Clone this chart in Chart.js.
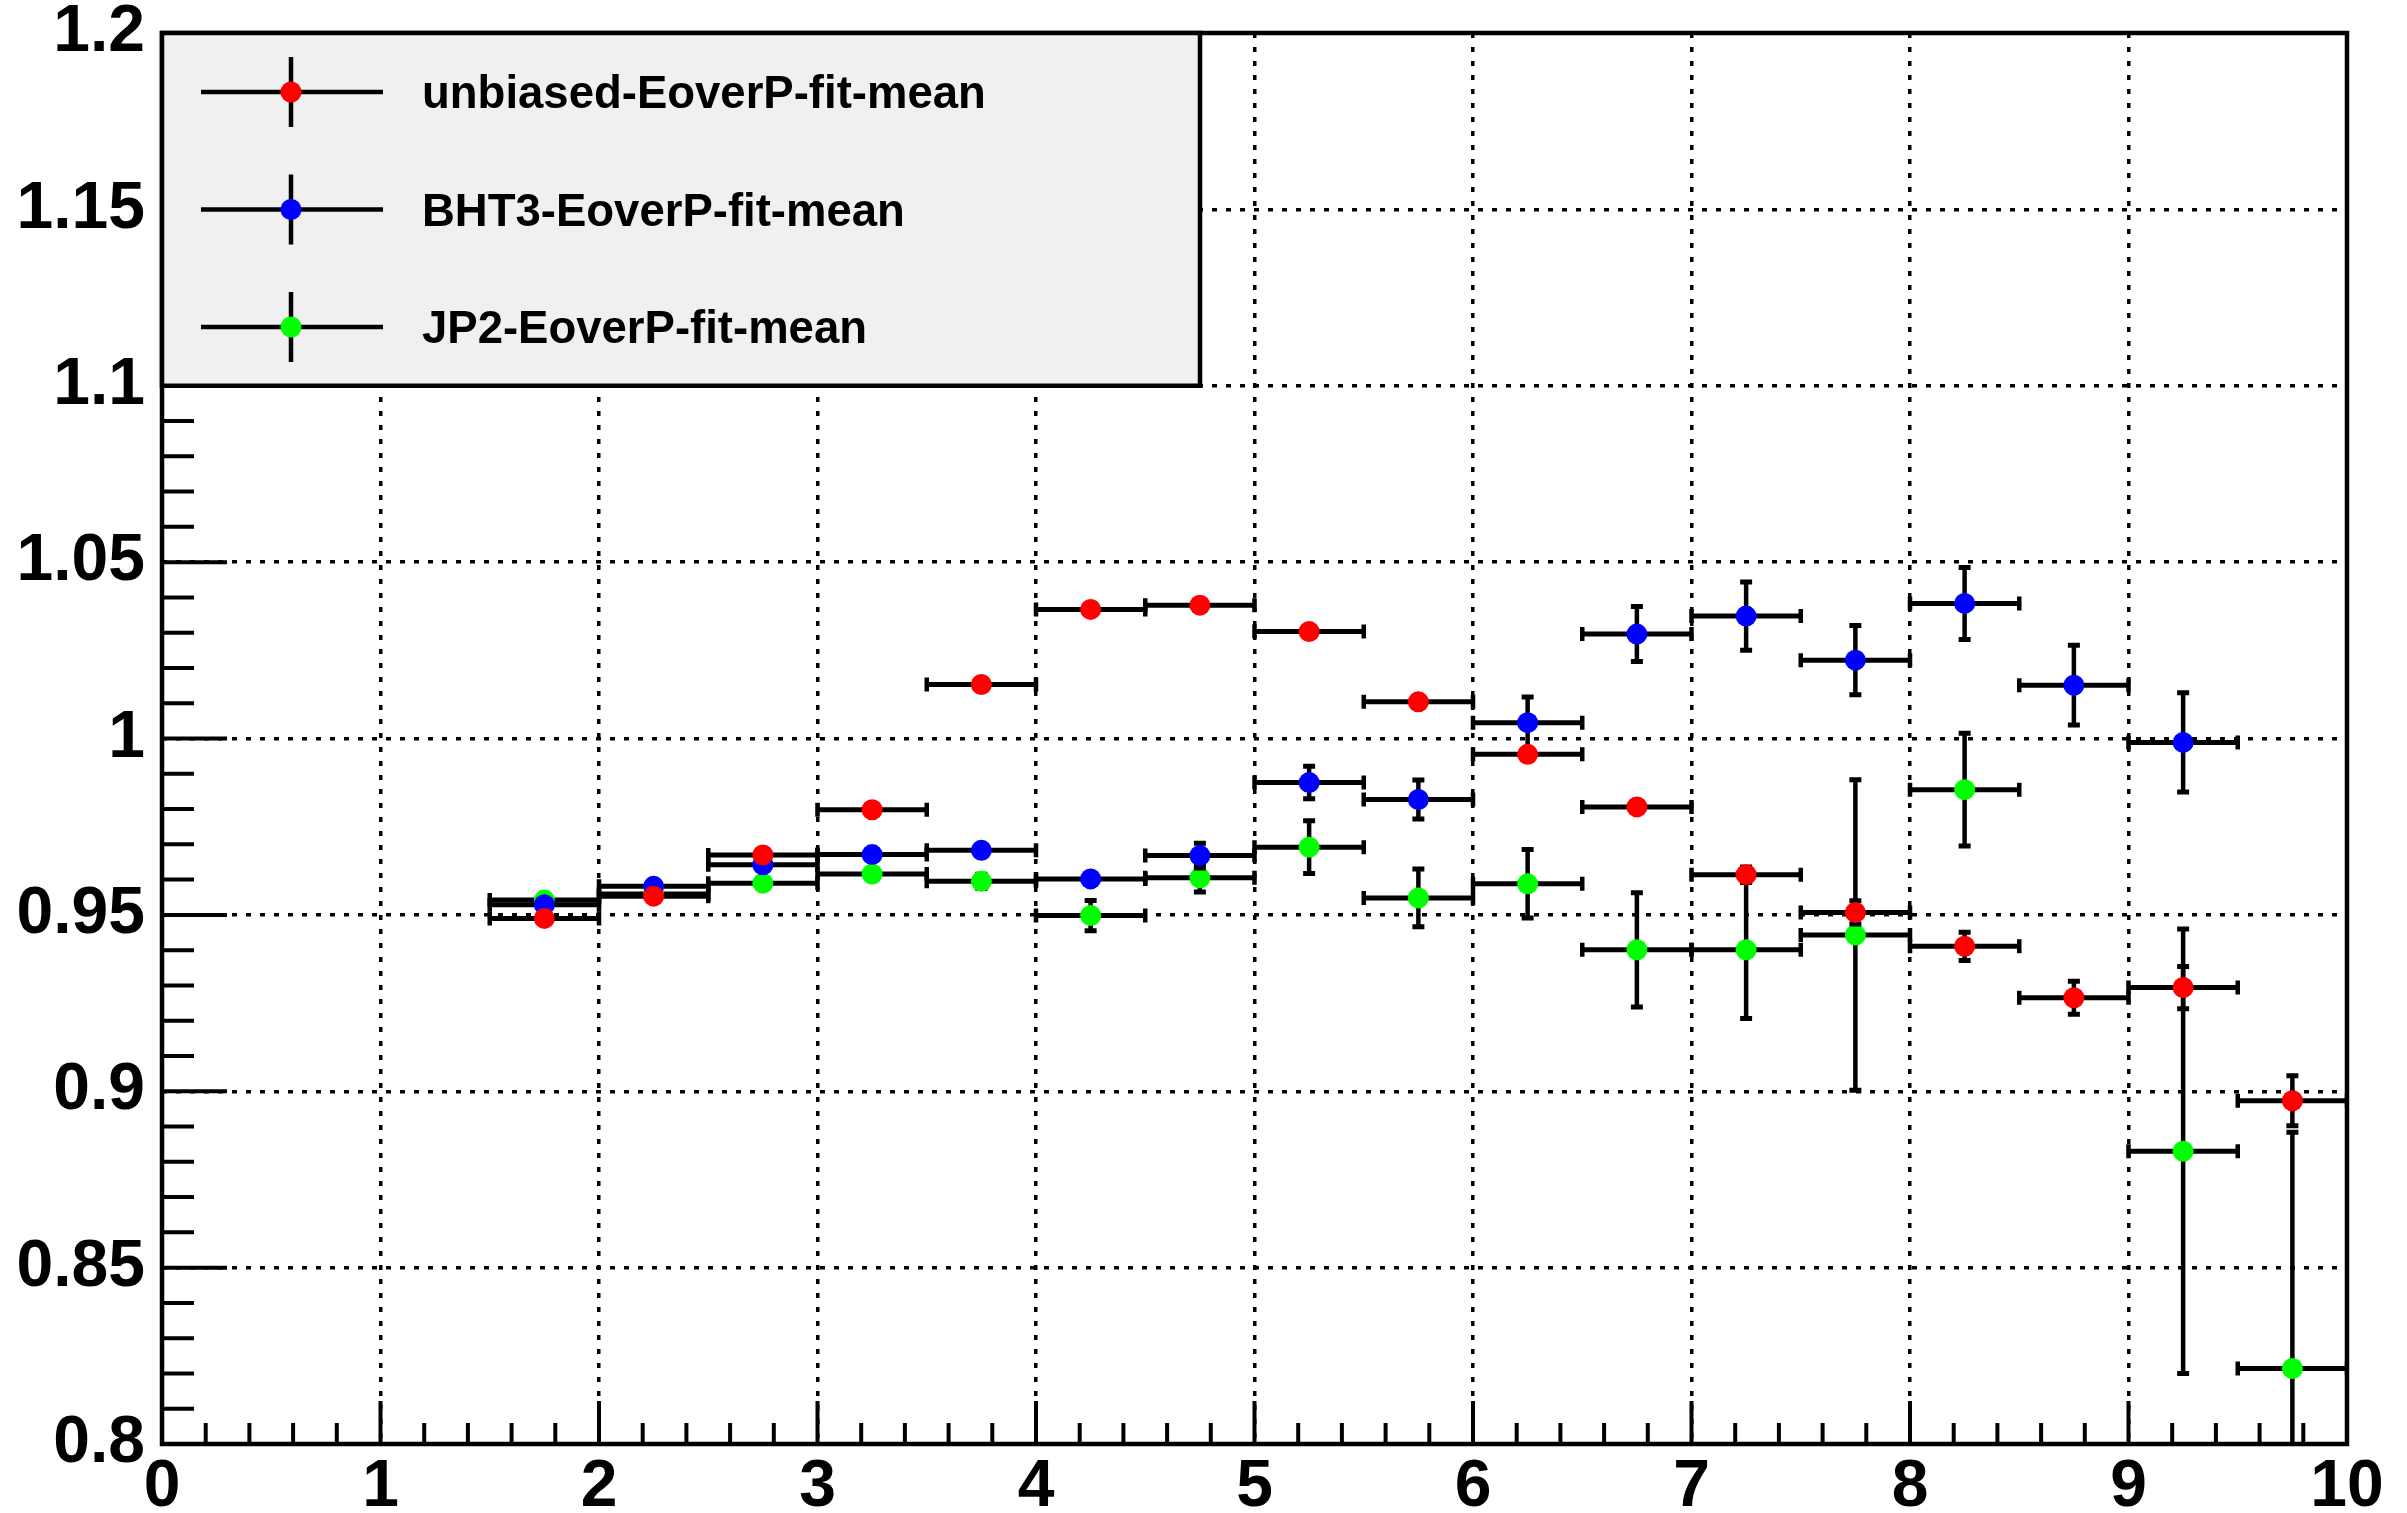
<!DOCTYPE html>
<html>
<head>
<meta charset="utf-8">
<script src="https://cdn.jsdelivr.net/npm/chart.js@4.4.1/dist/chart.umd.min.js"></script>
<style>
  html, body { margin: 0; padding: 0; background: #fff; }
  canvas { display: block; }
</style>
</head>
<body>
<canvas id="eoverp" width="2407" height="1513"></canvas>
<script>
// bin centres (bins are 0.5 wide)
const binCenters = [1.75, 2.25, 2.75, 3.25, 3.75, 4.25, 4.75, 5.25, 5.75, 6.25, 6.75, 7.25, 7.75, 8.25, 8.75, 9.25, 9.75];
const binHalfWidth = 0.25;

const unbiasedMean = [0.949, 0.9553, 0.967, 0.9798, 1.0153, 1.0366, 1.0378, 1.0303, 1.0104, 0.9955, 0.9806, 0.9614, 0.9507, 0.9411, 0.9265, 0.9294, 0.8973];
const unbiasedErr  = [0.001, 0.001, 0.001, 0.001, 0.001, 0.001, 0.001, 0.001, 0.001, 0.0015, 0.0015, 0.0022, 0.0033, 0.004, 0.0047, 0.006, 0.0071];

const bht3Mean = [0.9529, 0.9581, 0.9642, 0.9671, 0.9683, 0.9602, 0.9668, 0.9875, 0.9827, 1.0045, 1.0296, 1.0347, 1.0222, 1.0383, 1.0151, 0.9989, null];
const bht3Err  = [0.001, 0.001, 0.001, 0.001, 0.001, 0.0015, 0.0035, 0.0046, 0.0055, 0.0073, 0.0078, 0.0097, 0.0098, 0.0102, 0.0113, 0.0141, null];

const jp2Mean = [0.9542, 0.9559, 0.959, 0.9616, 0.9595, 0.9498, 0.9605, 0.9692, 0.9548, 0.9588, 0.9401, 0.9401, 0.9443, 0.9855, null, 0.883, 0.8214];
const jp2Err  = [0.001, 0.001, 0.001, 0.0015, 0.002, 0.0043, 0.004, 0.0075, 0.0082, 0.0097, 0.0162, 0.0195, 0.044, 0.016, null, 0.063, 0.067];

const seriesNames = ['unbiased-EoverP-fit-mean', 'BHT3-EoverP-fit-mean', 'JP2-EoverP-fit-mean'];
const seriesColors = ['#ff0000', '#0000ff', '#00ff00'];

const xTicks = [0, 1, 2, 3, 4, 5, 6, 7, 8, 9, 10];
const yTicks = [0.8, 0.85, 0.9, 0.95, 1.0, 1.05, 1.1, 1.15, 1.2];

const FONT = 'Liberation Sans, Arial, Helvetica, sans-serif';

function toPoints(values) {
    return binCenters.map((x, i) => ({x: x, y: values[i]}));
}

function makeSet(i, values, errs) {
    return {
        label: seriesNames[i],
        data: toPoints(values),
        yErr: errs,
        showLine: false,
        pointRadius: 10.5,
        pointHoverRadius: 10.5,
        pointBorderWidth: 0,
        pointBackgroundColor: seriesColors[i],
        borderColor: seriesColors[i],
        backgroundColor: seriesColors[i]
    };
}

// error bars are drawn right before each dataset's markers
const errorBars = {
    id: 'errorBars',
    beforeDatasetDraw(chart, args) {
        const ds = chart.data.datasets[args.index];
        const {ctx, chartArea: a} = chart;
        const xs = chart.scales.x, ys = chart.scales.y;
        ctx.save();
        ctx.beginPath();
        ctx.rect(a.left, a.top, a.right - a.left, a.bottom - a.top);
        ctx.clip();
        ctx.strokeStyle = '#000';
        ds.data.forEach((p, i) => {
            if (p.y === null) return;
            const px = xs.getPixelForValue(p.x);
            const py = ys.getPixelForValue(p.y);
            const xl = xs.getPixelForValue(p.x - binHalfWidth);
            const xr = xs.getPixelForValue(p.x + binHalfWidth);
            const yt = ys.getPixelForValue(p.y + ds.yErr[i]);
            const yb = ys.getPixelForValue(p.y - ds.yErr[i]);
            ctx.lineWidth = 5;
            ctx.beginPath();
            ctx.moveTo(xl, py); ctx.lineTo(xr, py);
            ctx.stroke();
            ctx.lineWidth = 4.5;
            ctx.beginPath();
            ctx.moveTo(xl, py - 7); ctx.lineTo(xl, py + 7);
            ctx.moveTo(xr, py - 7); ctx.lineTo(xr, py + 7);
            ctx.moveTo(px, yt); ctx.lineTo(px, yb);
            ctx.stroke();
            ctx.lineWidth = 5;
            ctx.beginPath();
            ctx.moveTo(px - 6, yt); ctx.lineTo(px + 6, yt);
            ctx.moveTo(px - 6, yb); ctx.lineTo(px + 6, yb);
            ctx.stroke();
        });
        ctx.restore();
    }
};

// ROOT style frame, inner ticks and the boxed legend
const frameAndLegend = {
    id: 'frameAndLegend',
    afterDraw(chart) {
        const {ctx, chartArea: a} = chart;
        const xs = chart.scales.x, ys = chart.scales.y;
        ctx.save();
        ctx.strokeStyle = '#000';
        ctx.lineWidth = 4;
        ctx.beginPath();
        for (let k = 0; k <= 50; k++) {
            const px = xs.getPixelForValue(k / 5);
            const len = k % 5 === 0 ? 43 : 21;
            ctx.moveTo(px, a.bottom); ctx.lineTo(px, a.bottom - len);
        }
        for (let k = 0; k <= 40; k++) {
            const py = ys.getPixelForValue(0.8 + k * 0.01);
            const len = k % 5 === 0 ? 65 : 32;
            ctx.moveTo(a.left, py); ctx.lineTo(a.left + len, py);
        }
        ctx.stroke();
        ctx.lineWidth = 4.5;
        ctx.strokeRect(a.left, a.top, a.right - a.left, a.bottom - a.top);

        // legend box
        const lx = a.left, ly = a.top, lw = 1038, lh = ys.getPixelForValue(1.1) - a.top;
        ctx.fillStyle = '#f0f0f0';
        ctx.fillRect(lx, ly, lw, lh);
        ctx.lineWidth = 4.5;
        ctx.strokeRect(lx, ly, lw, lh);

        chart.data.datasets.forEach((ds, i) => {
            const cy = ly + 59 + i * 117.5;
            const mx = lx + 129;
            ctx.strokeStyle = '#000';
            ctx.lineWidth = 4.5;
            ctx.beginPath();
            ctx.moveTo(lx + 39, cy); ctx.lineTo(lx + 221, cy);
            ctx.moveTo(mx, cy - 35); ctx.lineTo(mx, cy + 35);
            ctx.stroke();
            ctx.fillStyle = ds.pointBackgroundColor;
            ctx.beginPath();
            ctx.arc(mx, cy, 10.5, 0, Math.PI * 2);
            ctx.fill();
            ctx.fillStyle = '#000';
            ctx.font = 'bold 45.5px ' + FONT;
            ctx.textAlign = 'left';
            ctx.textBaseline = 'alphabetic';
            ctx.fillText(ds.label, lx + 260, cy + 16);
        });
        ctx.restore();
    }
};

const tickFont = {family: FONT, weight: 'bold', size: 66};

new Chart(document.getElementById('eoverp'), {
    type: 'scatter',
    data: {
        datasets: [
            makeSet(0, unbiasedMean, unbiasedErr),
            makeSet(1, bht3Mean, bht3Err),
            makeSet(2, jp2Mean, jp2Err)
        ]
    },
    options: {
        responsive: false,
        animation: false,
        layout: {
            padding: {top: 33, right: 60, bottom: 0, left: 0}
        },
        plugins: {
            legend: {display: false},
            tooltip: {enabled: false}
        },
        scales: {
            x: {
                type: 'linear',
                min: 0,
                max: 10,
                afterBuildTicks: s => { s.ticks = xTicks.map(v => ({value: v})); },
                afterFit: s => { s.height = 69; s.paddingLeft = 0; s.paddingRight = 0; },
                grid: {color: '#000', lineWidth: 3.5, drawTicks: false},
                border: {display: false, dash: [5, 9]},
                ticks: {
                    color: '#000',
                    font: tickFont,
                    padding: 4,
                    maxRotation: 0,
                    autoSkip: false,
                    callback: v => String(v)
                }
            },
            y: {
                type: 'linear',
                min: 0.8,
                max: 1.2,
                afterBuildTicks: s => { s.ticks = yTicks.map(v => ({value: v})); },
                afterFit: s => { s.width = 162; s.paddingTop = 0; s.paddingBottom = 0; },
                grid: {color: '#000', lineWidth: 3.5, drawTicks: false},
                border: {display: false, dash: [5, 9]},
                ticks: {
                    color: '#000',
                    font: tickFont,
                    padding: 17,
                    autoSkip: false,
                    callback: v => String(+v.toFixed(2))
                }
            }
        }
    },
    plugins: [errorBars, frameAndLegend]
});
</script>
</body>
</html>
